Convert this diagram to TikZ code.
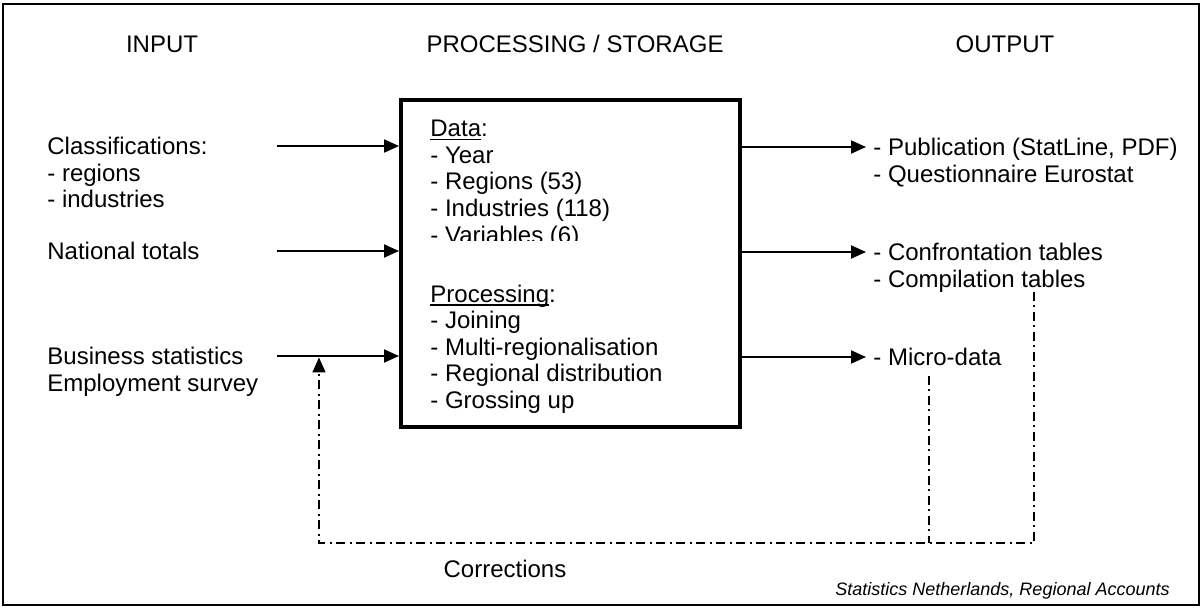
\documentclass[tikz,border=0pt]{standalone}
\usepackage{fontspec}
\setmainfont{Liberation Sans}
\usetikzlibrary{arrows.meta}
\newcommand\ulword[1]{\setbox0\hbox{#1}\rlap{\rule[-1.6pt]{\wd0}{0.75pt}}\box0}
\begin{document}
\begin{tikzpicture}[x=0.5pt,y=-0.5pt,
  txt/.style={anchor=base west,inner sep=0pt,font=\fontsize{12}{13.25}\selectfont},
  hdr/.style={anchor=base,inner sep=0pt,font=\fontsize{12}{13.25}\selectfont},
  flow/.style={line width=1pt,-{Triangle[length=7.5pt,width=6.5pt]}},
  fb/.style={line width=0.75pt,dash pattern=on 4.5pt off 2pt on 1pt off 2.5pt},
  procbox/.style={draw,line width=2pt,inner sep=0pt,minimum width=169.5pt,minimum height=163.5pt}]
\useasboundingbox (0,0) rectangle (1203,608);
\draw[line width=0.75pt] (3,4) rectangle (1199,605);
% headers
\node[hdr] (hin) at (162,53) {INPUT};
\node[hdr] (hproc) at (575,53) {PROCESSING / STORAGE};
\node[hdr] (hout) at (1005,53) {OUTPUT};
% central box
\node[procbox] (box) at (570.5,263.5) {};
% input texts
\node[txt] (i1) at (47,155) {Classifications:};
\node[txt] (i2) at (47,181.5) {- regions};
\node[txt] (i3) at (47,208) {- industries};
\node[txt] (i4) at (47,260) {National totals};
\node[txt] (i5) at (47,365) {Business statistics};
\node[txt] (i6) at (47,391.5) {Employment survey};
% box texts
\node[txt] (d1) at (430,137) {\ulword{Data}:};
\node[txt] (d2) at (430,163.5) {- Year};
\node[txt] (d3) at (430,190) {- Regions (53)};
\node[txt] (d4) at (430,216.5) {- Industries (118)};
\begin{scope}
\clip (405,200) rectangle (736,241);
\node[txt] (d5) at (430,243.5) {- Variables (6)};
\end{scope}
\node[txt] (p1) at (430,302.5) {\ulword{Processing}:};
\node[txt] (p2) at (430,329) {- Joining};
\node[txt] (p3) at (430,355.5) {- Multi-regionalisation};
\node[txt] (p4) at (430,382) {- Regional distribution};
\node[txt] (p5) at (430,408.5) {- Grossing up};
% output texts
\node[txt] (o1t) at (873,156) {- Publication (StatLine, PDF)};
\node[txt] (o2t) at (873,182.5) {- Questionnaire Eurostat};
\node[txt] (o3t) at (873,261) {- Confrontation tables};
\node[txt] (o4t) at (873,287.5) {- Compilation tables};
\node[txt] (o5t) at (873,366) {- Micro-data};
% input arrows
\coordinate (a1) at (277,146);
\coordinate (a2) at (277,251);
\coordinate (a3) at (277,356);
\draw[flow] (a1) -- (a1 -| box.west);
\draw[flow] (a2) -- (a2 -| box.west);
\draw[flow] (a3) -- (a3 -| box.west);
% output arrows
\coordinate (b1) at (866,147);
\coordinate (b2) at (866,252);
\coordinate (b3) at (866,357);
\draw[flow] (b1 -| box.east) -- (b1);
\draw[flow] (b2 -| box.east) -- (b2);
\draw[flow] (b3 -| box.east) -- (b3);
% feedback
\coordinate (ftip) at (319,357.5);
\coordinate (c1) at (319,543);
\coordinate (c2) at (1034,543);
\coordinate (c3) at (1034,292);
\coordinate (c4) at (929,376);
\coordinate (c5) at (929,543);
\draw[fb,-{Triangle[length=7.5pt,width=6.5pt]}] (c3) -- (c2) -- (c1) -- (ftip);
\draw[fb] (c4) -- (c5);
\node[hdr] (corr) at (505,577) {Corrections};
\node[anchor=base east,inner sep=0pt,font=\fontsize{9}{11}\selectfont\itshape] (foot) at (1170,595) {Statistics Netherlands, Regional Accounts};
\end{tikzpicture}
\end{document}
